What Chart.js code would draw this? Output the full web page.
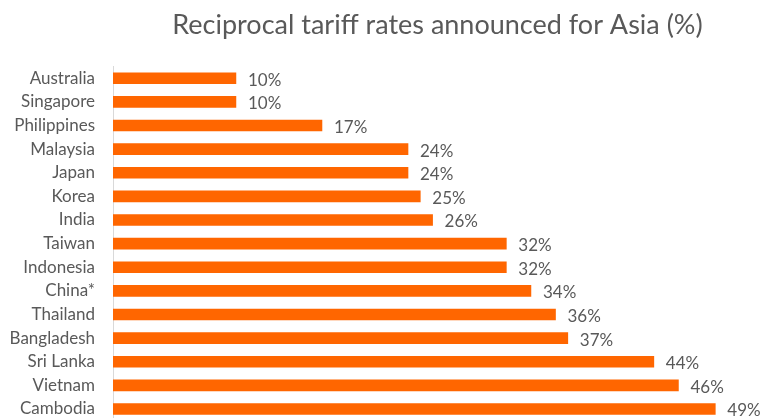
<!DOCTYPE html>
<html>
<head>
<meta charset="utf-8">
<script src="https://cdn.jsdelivr.net/npm/chart.js@4"></script>
<style>
  html, body { margin: 0; padding: 0; background: #fff; overflow: hidden; }
  #wrap { width: 762px; height: 418px; overflow: hidden; }
</style>
</head>
<body>
<div id="wrap"><canvas id="grafico" width="762" height="441"></canvas></div>
<script>
const countries = ['Australia', 'Singapore', 'Philippines', 'Malaysia', 'Japan', 'Korea', 'India', 'Taiwan', 'Indonesia', 'China*', 'Thailand', 'Bangladesh', 'Sri Lanka', 'Vietnam', 'Cambodia'];
const rates = [10, 10, 17, 24, 24, 25, 26, 32, 32, 34, 36, 37, 44, 46, 49];
const titleText = 'Reciprocal tariff rates announced for Asia (%)';

const textGray = '#595959';

// value labels at the end of each bar
const valueLabels = {
  id: 'valueLabels',
  afterDatasetsDraw(chart) {
    const ctx = chart.ctx;
    const meta = chart.getDatasetMeta(0);
    ctx.save();
    ctx.font = '17px Lato';
    ctx.fillStyle = textGray;
    ctx.textAlign = 'left';
    ctx.textBaseline = 'middle';
    meta.data.forEach((bar, i) => {
      ctx.fillText(rates[i] + '%', bar.x + 12, bar.y + 2);
    });
    ctx.restore();
  }
};

const ctx = document.getElementById('grafico').getContext('2d');
const meuGrafico = new Chart(ctx, {
  type: 'bar',
  data: {
    labels: countries,
    datasets: [{
      label: 'Tariff rate',
      data: rates,
      backgroundColor: '#ff6600',
      barThickness: 11
    }]
  },
  options: {
    indexAxis: 'y',
    responsive: false,
    animation: false,
    layout: { padding: 0 },
    plugins: {
      legend: { display: false },
      tooltip: { enabled: false },
      title: {
        display: true,
        text: titleText,
        fullSize: false,
        color: textGray,
        font: { family: 'Lato', size: 27, weight: 'normal' },
        padding: { top: 9, bottom: 25 }
      }
    },
    scales: {
      x: {
        display: false,
        min: 0,
        max: 52.8
      },
      y: {
        grid: { display: false },
        border: { display: true, color: '#d9d9d9', width: 1 },
        ticks: {
          color: textGray,
          font: { family: 'Lato', size: 17 },
          padding: 10
        },
        afterFit(scale) { scale.width = 113; }
      }
    }
  },
  plugins: [valueLabels]
});
</script>
</body>
</html>
